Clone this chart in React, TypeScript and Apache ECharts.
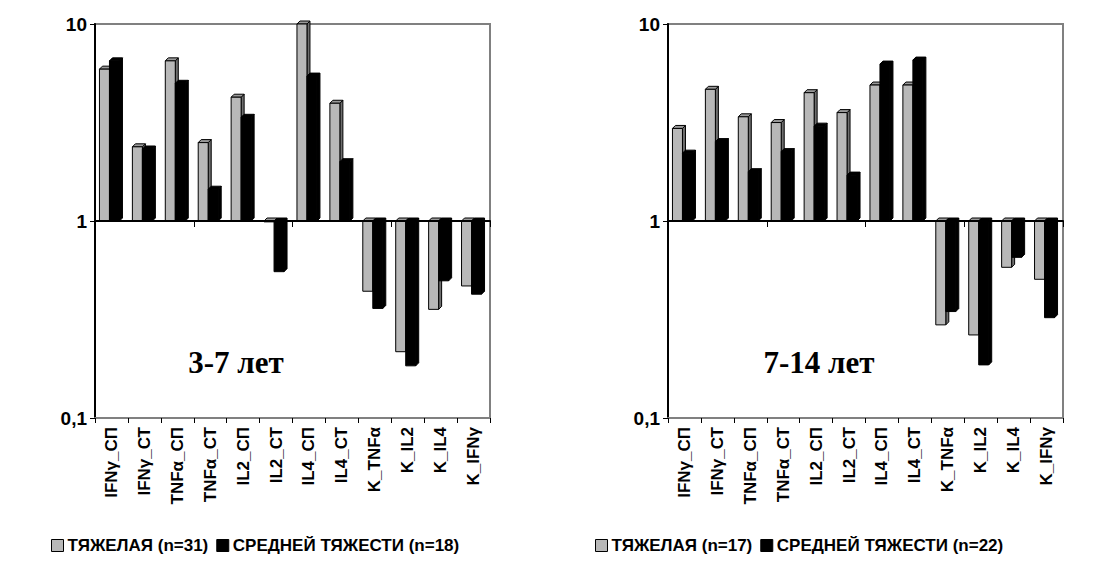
import React, { useEffect, useRef } from "react";
import * as echarts from "echarts";

const categories = [
  "IFNγ_СП", "IFNγ_СТ", "TNFα_СП", "TNFα_СТ", "IL2_СП", "IL2_СТ",
  "IL4_СП", "IL4_СТ", "K_TNFα", "K_IL2", "K_IL4", "K_IFNγ",
];

const leftSevere = [5.9, 2.38, 6.5, 2.5, 4.25, 0.99, 10, 3.96, 0.44, 0.217, 0.356, 0.468];
const leftModerate = [6.5, 2.32, 5.0, 1.45, 3.36, 0.553, 5.44, 2.0, 0.36, 0.184, 0.497, 0.425];
const rightSevere = [2.95, 4.66, 3.38, 3.16, 4.48, 3.55, 4.9, 4.9, 0.297, 0.264, 0.582, 0.506];
const rightModerate = [2.21, 2.53, 1.78, 2.25, 3.03, 1.71, 6.26, 6.56, 0.347, 0.186, 0.654, 0.323];

const leftNames = ["ТЯЖЕЛАЯ (n=31)", "СРЕДНЕЙ ТЯЖЕСТИ (n=18)"];
const rightNames = ["ТЯЖЕЛАЯ (n=17)", "СРЕДНЕЙ ТЯЖЕСТИ (n=22)"];
const panelTitles = ["3-7 лет", "7-14 лет"];
const yTicks = [0.1, 1, 10];

const SANS = '"Liberation Sans", Arial, sans-serif';
const SERIF = '"Liberation Serif", "Times New Roman", serif';

function makeRender(idx: number, front: string, top: string, side: string) {
  return (params: any, api: any) => {
    const cat = api.value(0);
    const v = api.value(1);
    const p = api.coord([cat, v]);
    const b = api.coord([cat, 1]);
    const w = 10;
    const d = 3;
    const x0 = p[0] - 12 + idx * w;
    const yTop = Math.min(p[1], b[1]);
    const yBot = Math.max(p[1], b[1]);
    const stroke = { stroke: "#000", lineWidth: 1 };
    return {
      type: "group",
      children: [
        {
          type: "polygon",
          shape: { points: [[x0 + w, yTop], [x0 + w + d, yTop - d], [x0 + w + d, yBot - d], [x0 + w, yBot]] },
          style: { fill: side, ...stroke },
        },
        {
          type: "polygon",
          shape: { points: [[x0, yTop], [x0 + d, yTop - d], [x0 + w + d, yTop - d], [x0 + w, yTop]] },
          style: { fill: top, ...stroke },
        },
        {
          type: "rect",
          shape: { x: x0, y: yTop, width: w, height: yBot - yTop },
          style: { fill: front, ...stroke },
        },
      ],
    };
  };
}

export default function App() {
  const ref = useRef<HTMLDivElement>(null);
  useEffect(() => {
    if (!ref.current) return;
    const chart = echarts.init(ref.current, undefined, { renderer: "svg" });
    const grids = [
      { left: 95, top: 24, width: 395, height: 394 },
      { left: 668, top: 24, width: 395, height: 394 },
    ];
    const xAxes: any[] = [];
    const yAxes: any[] = [];
    grids.forEach((_, gi) => {
      xAxes.push({
        type: "category",
        gridIndex: gi,
        data: categories,
        position: "bottom",
        axisLine: { onZero: false, lineStyle: { color: "#808080", width: 2 } },
        axisTick: { show: true, length: 5, lineStyle: { color: "#000", width: 1 } },
        axisLabel: {
          rotate: 90,
          interval: 0,
          margin: 9,
          color: "#000",
          fontFamily: SANS,
          fontWeight: "bold",
          fontSize: 17,
        },
      });
      xAxes.push({
        type: "category",
        gridIndex: gi,
        data: categories,
        position: "bottom",
        offset: -197,
        axisLine: { onZero: false, lineStyle: { color: "#000", width: 2 } },
        axisTick: { show: true, length: 6, lineStyle: { color: "#000", width: 1 } },
        axisLabel: { show: false },
        z: 10,
      });
      yAxes.push({
        type: "log",
        gridIndex: gi,
        logBase: 10,
        min: yTicks[0],
        max: yTicks[yTicks.length - 1],
        axisLine: { show: true, lineStyle: { color: "#000", width: 2 } },
        axisTick: { show: true, length: 5, lineStyle: { color: "#000" } },
        splitLine: { show: false },
        minorTick: { show: false },
        axisLabel: {
          color: "#000",
          fontFamily: SANS,
          fontWeight: "bold",
          fontSize: 19,
          margin: 8,
          formatter: (v: number) => String(+v.toPrecision(3)).replace(".", ","),
        },
      });
    });

    const mk = (name: string, vals: number[], gi: number, idx: number) => {
      const gray = idx === 0;
      return {
        type: "custom",
        name,
        xAxisIndex: gi * 2,
        yAxisIndex: gi,
        encode: { x: 0, y: 1 },
        itemStyle: { color: gray ? "#b8b8b8" : "#000", borderColor: "#000", borderWidth: 1 },
        renderItem: gray
          ? makeRender(0, "#b8b8b8", "#9a9a9a", "#6e6e6e")
          : makeRender(1, "#000", "#000", "#000"),
        data: vals.map((v, i) => [i, v]),
        z: gray ? 2 : 3,
      };
    };

    const legendBase = {
      orient: "horizontal",
      top: 532,
      icon: "rect",
      itemWidth: 12,
      itemHeight: 12,
      itemGap: 8,
      selectedMode: false,
      itemStyle: { borderColor: "#000", borderWidth: 1 },
      textStyle: { color: "#000", fontFamily: SANS, fontWeight: "bold", fontSize: 17, padding: [0, 0, 0, -1] },
    };

    chart.setOption({
      animation: false,
      backgroundColor: "#fff",
      grid: grids.map((g) => ({ ...g, show: true, borderColor: "#808080", borderWidth: 2, backgroundColor: "#fff" })),
      xAxis: xAxes,
      yAxis: yAxes,
      legend: [
        { ...legendBase, left: 46, data: leftNames },
        { ...legendBase, left: 590, data: rightNames },
      ],
      graphic: [
        {
          type: "text",
          x: 236,
          y: 362,
          style: { text: panelTitles[0], font: `bold 31px ${SERIF}`, fill: "#000", textAlign: "center", textVerticalAlign: "middle" },
        },
        {
          type: "text",
          x: 819,
          y: 362,
          style: { text: panelTitles[1], font: `bold 31px ${SERIF}`, fill: "#000", textAlign: "center", textVerticalAlign: "middle" },
        },
      ],
      series: [
        mk(leftNames[0], leftSevere, 0, 0),
        mk(leftNames[1], leftModerate, 0, 1),
        mk(rightNames[0], rightSevere, 1, 0),
        mk(rightNames[1], rightModerate, 1, 1),
      ],
    });
    return () => chart.dispose();
  }, []);
  return <div ref={ref} style={{ position: "fixed", left: 0, top: 0, width: 1097, height: 572 }} />;
}
